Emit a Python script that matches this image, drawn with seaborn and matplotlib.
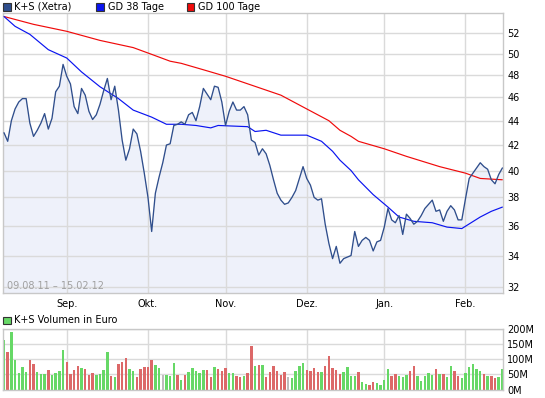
import numpy as np
import pandas as pd
import matplotlib
matplotlib.use("Agg")
import matplotlib.pyplot as plt
from matplotlib.patches import Rectangle
from matplotlib.ticker import FixedLocator, NullLocator
import seaborn as sns

# ---------------- data ----------------
first_day = "2011-08-09"
last_day = "2012-02-15"
holidays = ["2011-12-26"]

price = [43.0, 42.3, 44.0, 45.0, 45.6, 45.9, 45.9, 43.8, 42.7, 43.2,
         43.8, 44.6, 43.3, 44.2, 46.5, 47.0, 49.0, 47.9, 47.2, 45.2,
         44.6, 46.8, 46.2, 44.8, 44.1, 44.5, 45.4, 46.6, 47.7, 45.8,
         47.0, 44.9, 42.4, 40.8, 41.7, 43.3, 42.9, 41.5, 39.8, 38.0,
         35.6, 38.3, 39.5, 40.6, 42.0, 42.1, 43.6, 43.7, 43.9, 43.7,
         44.5, 44.7, 44.0, 45.2, 46.8, 46.3, 45.8, 47.0, 46.9, 45.6,
         43.6, 44.8, 45.6, 44.9, 44.9, 45.2, 44.5, 42.4, 42.2, 41.2,
         41.7, 41.3, 40.4, 39.3, 38.3, 37.8, 37.5, 37.6, 38.0, 38.5,
         39.4, 40.3, 39.4, 38.9, 38.0, 37.8, 37.9, 36.1, 34.8, 33.8,
         34.6, 33.5, 33.8, 33.9, 34.0, 35.6, 34.6, 35.0, 35.2, 35.0,
         34.3, 34.9, 35.0, 35.9, 37.2, 36.4, 36.2, 36.7, 35.4, 36.8,
         36.5, 36.1, 36.3, 36.7, 37.2, 37.5, 37.8, 37.0, 37.1, 36.3,
         37.0, 37.4, 37.1, 36.4, 36.4, 37.9, 39.4, 39.8, 40.2, 40.6,
         40.3, 40.1, 39.3, 39.0, 39.7, 40.2]

gd38_days = [0, 3, 7, 12, 17, 21, 26, 31, 35, 40, 44, 48, 52, 56, 58, 66, 68,
             71, 75, 82, 86, 89, 91, 94, 96, 100, 104, 107, 111, 116, 120,
             124, 129, 132, 135]
gd38 = [53.7, 52.7, 51.9, 50.4, 49.6, 48.3, 46.95, 45.9, 44.9, 44.3, 43.7,
        43.7, 43.6, 43.4, 43.6, 43.5, 43.1, 43.2, 42.8, 42.8, 42.3, 41.5,
        40.8, 40.0, 39.3, 38.2, 37.3, 36.6, 36.3, 36.2, 35.9, 35.8, 36.6,
        37.0, 37.3]

gd100_days = [0, 8, 17, 26, 35, 40, 45, 48, 54, 60, 67, 75, 82, 88, 91, 94,
              96, 103, 109, 118, 125, 129, 135]
gd100 = [53.7, 52.9, 52.2, 51.3, 50.6, 49.95, 49.3, 49.1, 48.5, 47.9, 47.1,
         46.2, 45.0, 44.0, 43.2, 42.7, 42.3, 41.7, 41.1, 40.3, 39.8, 39.4,
         39.3]

volume_mio = [166, 126, 193, 99, 54, 74, 58, 99, 85, 58,
              52, 52, 65, 48, 56, 62, 133, 92, 52, 65,
              79, 72, 69, 48, 54, 48, 52, 65, 126, 45,
              40, 85, 90, 106, 67, 62, 42, 69, 75, 75,
              99, 82, 72, 48, 48, 45, 89, 48, 31, 48,
              58, 72, 63, 55, 65, 65, 42, 75, 69, 62,
              72, 55, 55, 45, 42, 45, 55, 146, 79, 82,
              82, 42, 58, 79, 62, 48, 58, 42, 38, 62,
              79, 89, 65, 62, 72, 58, 58, 79, 112, 72,
              65, 52, 58, 75, 45, 45, 58, 25, 18, 15,
              25, 21, 15, 31, 69, 45, 52, 45, 42, 48,
              62, 79, 45, 28, 45, 55, 48, 69, 52, 52,
              42, 79, 62, 45, 38, 55, 75, 85, 69, 62,
              52, 45, 45, 38, 42, 69]

# u = up day, d = down day, n = unchanged
direction = list("uduuuuuddu" "uuduuuuddd" "duddduuuud" "uddduudddd"
                 "duunuuudud" "uuuuuddudd" "duudduddud" "uddddddnuu"
                 "uudddduddd" "dduuuuduud" "duuuudduuu" "dduuuuudud"
                 "uudduuuuuu" "dudduu")

month_labels = ["Sep.", "Okt.", "Nov.", "Dez.", "Jan.", "Feb."]
price_ticks = [32, 34, 36, 38, 40, 42, 44, 46, 48, 50, 52]
volume_ticks = [0, 50, 100, 150, 200]
series_names = ["K+S (Xetra)", "GD 38 Tage", "GD 100 Tage"]
volume_name = "K+S Volumen in Euro"
date_range_text = "09.08.11 \u2013 15.02.12"

# ---------------- derived ----------------
dates = pd.bdate_range(first_day, last_day)
dates = dates[~dates.isin(pd.to_datetime(holidays))]
day = np.arange(len(dates))
month_pos = [i for i in range(1, len(dates)) if dates[i].month != dates[i - 1].month]

df = pd.DataFrame({"day": day, "price": price})
dfv = pd.DataFrame({"day": day, "vol": volume_mio, "dir": direction})

# ---------------- style ----------------
sns.set_style("white")
plt.rcParams["font.family"] = ["DejaVu Sans"]

C_KS = "#2F4E8C"
C_FILL = "#EEF1FA"
C_38 = "#0A14F0"
C_100 = "#F00A0A"
C_GRID = "#DADADA"
C_FRAME = "#C8C8C8"
C_UP, C_DOWN, C_FLAT = "#66D866", "#DC6868", "#BDBDBD"
FS = 7

W, H = 545, 398
fig = plt.figure(figsize=(W / 100, H / 100), dpi=100)
fig.patch.set_facecolor("white")


def px_axes(l, t, r, b):
    return fig.add_axes([l / W, 1 - b / H, (r - l) / W, (b - t) / H])


ax = px_axes(3, 13, 503, 293)
axv = px_axes(3, 329, 503, 389.5)

# ---------------- price panel ----------------
ax.fill_between(df["day"], df["price"], 20, color=C_FILL, lw=0, zorder=1)
sns.lineplot(data=df, x="day", y="price", ax=ax, color=C_KS, lw=0.95, zorder=3)
sns.lineplot(x=gd38_days, y=gd38, ax=ax, color=C_38, lw=0.85, zorder=2.6)
sns.lineplot(x=gd100_days, y=gd100, ax=ax, color=C_100, lw=0.85, zorder=2.5)
ax.set_yscale("log")
ax.set_ylim(31.65, 54.06)
ax.set_xlim(-0.27, 135.16)
ax.yaxis.set_major_locator(FixedLocator(price_ticks))
ax.yaxis.set_minor_locator(NullLocator())
ax.set_yticklabels([str(t) for t in price_ticks])
ax.set_xticks(month_pos)
ax.set_xticklabels(month_labels)
ax.yaxis.tick_right()
ax.tick_params(axis="both", length=0, labelsize=FS, colors="black")
ax.tick_params(axis="y", pad=3)
ax.tick_params(axis="x", pad=4)
ax.set_axisbelow("line")
ax.grid(True, color=C_GRID, lw=1)
ax.set_xlabel("")
ax.set_ylabel("")
for s in ax.spines.values():
    s.set_color(C_FRAME)
    s.set_linewidth(1)
fig.text(7 / W, 1 - 286 / H, date_range_text, fontsize=FS,
         color="#A0A0A0", va="center", ha="left", zorder=4)

# ---------------- volume panel ----------------
sns.barplot(data=dfv, x="day", y="vol", hue="dir",
            palette={"u": C_UP, "d": C_DOWN, "n": C_FLAT},
            dodge=False, width=0.66, saturation=1, legend=False, ax=axv,
            errorbar=None, zorder=2, linewidth=0, edgecolor="none")
axv.set_xlim(-0.27, 135.16)
axv.set_ylim(0, 201.5)
axv.set_xticks(month_pos)
axv.set_xticklabels([])
axv.set_yticks(volume_ticks)
axv.set_yticklabels([f"{v}M" for v in volume_ticks])
axv.yaxis.tick_right()
axv.tick_params(axis="both", length=0, labelsize=FS, colors="black")
axv.tick_params(axis="y", pad=3)
axv.set_axisbelow(True)
axv.grid(True, color=C_GRID, lw=1)
axv.set_xlabel("")
axv.set_ylabel("")
for s in axv.spines.values():
    s.set_color(C_FRAME)
    s.set_linewidth(1)

# ---------------- legends ----------------
def legend_item(x, y, color, label):
    fig.add_artist(Rectangle((x / W, 1 - (y + 7.5) / H), 7.5 / W, 7.5 / H,
                             transform=fig.transFigure, facecolor=color,
                             edgecolor="#333333", lw=0.8))
    fig.text((x + 11.5) / W, 1 - (y + 3.9) / H, label, fontsize=FS,
             va="center", ha="left", color="black")


legend_item(3, 3, C_KS, series_names[0])
legend_item(96, 3, C_38, series_names[1])
legend_item(187, 3, C_100, series_names[2])
legend_item(3, 316.5, C_UP, volume_name)

fig.savefig("out.png", dpi=100, facecolor="white")
